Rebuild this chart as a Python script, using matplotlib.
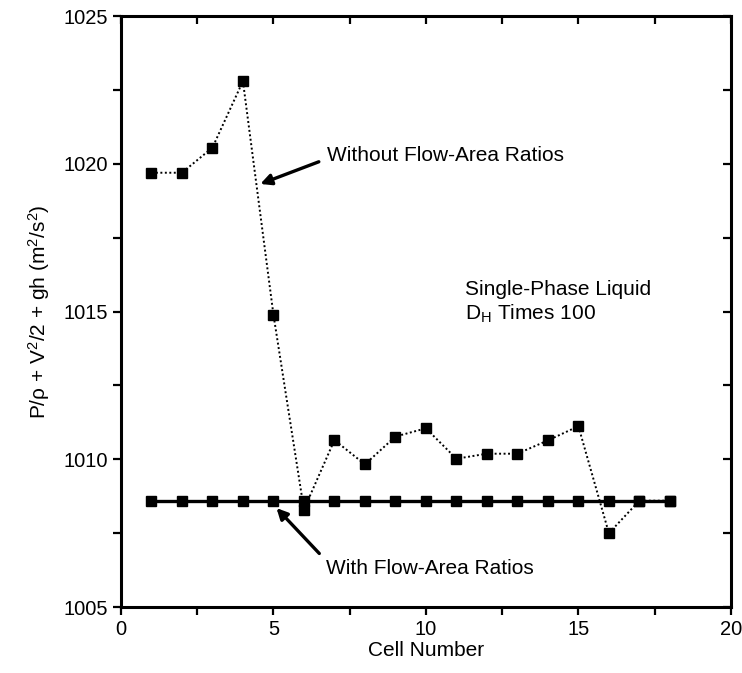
import numpy as np
import matplotlib.pyplot as plt
from matplotlib.ticker import MultipleLocator

plt.rcParams['font.family'] = ['Liberation Sans', 'DejaVu Sans']
plt.rcParams['mathtext.fontset'] = 'custom'
plt.rcParams['mathtext.rm'] = 'Liberation Sans'
plt.rcParams['mathtext.it'] = 'Liberation Sans'

# cell numbers and energy values
cells = np.arange(1, 19)
without_ratios = [1019.7, 1019.7, 1020.55, 1022.8, 1014.9, 1008.3, 1010.65, 1009.83,
                  1010.77, 1011.05, 1010.02, 1010.19, 1010.19, 1010.64, 1011.12,
                  1007.5, 1008.6, 1008.6]
with_ratios = [1008.6] * 18

fig = plt.figure(figsize=(7.42, 6.73), dpi=100)
ax = fig.add_axes([0.163, 0.098, 0.822, 0.878])

ax.plot(cells, with_ratios, color='black', lw=2.4, marker='s', ms=7, zorder=3)
ax.plot(cells, without_ratios, color='black', lw=1.4, ls=(0, (1, 1.3)),
        marker='s', ms=7, zorder=4)

ax.set_xlim(0, 20)
ax.set_ylim(1005, 1025)
ax.xaxis.set_major_locator(MultipleLocator(5))
ax.xaxis.set_minor_locator(MultipleLocator(2.5))
ax.yaxis.set_major_locator(MultipleLocator(5))
ax.yaxis.set_minor_locator(MultipleLocator(2.5))
ax.tick_params(which='both', direction='out', length=6, width=1.6, labelsize=14.5,
               top=False, right=False)
for spine in ax.spines.values():
    spine.set_linewidth(2.2)

# right and top ticks point inward
sec_y = ax.secondary_yaxis('right')
sec_y.yaxis.set_major_locator(MultipleLocator(2.5))
sec_y.tick_params(direction='in', length=6, width=1.6, labelright=False)
sec_x = ax.secondary_xaxis('top')
sec_x.xaxis.set_major_locator(MultipleLocator(2.5))
sec_x.tick_params(direction='in', length=6, width=1.6, labeltop=False)

ax.set_xlabel('Cell Number', fontsize=15, labelpad=1)
ax.set_ylabel(r'P/$\rho$ + V$^2$/2 + gh (m$^2$/s$^2$)', fontsize=15, labelpad=8)

ax.annotate('Without Flow-Area Ratios', xy=(4.57, 1019.32), xytext=(6.75, 1020.27),
            fontsize=15, va='center', ha='left',
            arrowprops=dict(arrowstyle='-|>', color='black', lw=2.4,
                            mutation_scale=16, shrinkA=4, shrinkB=0,
                            relpos=(0, 0.35)))
ax.annotate('With Flow-Area Ratios', xy=(5.1, 1008.35), xytext=(6.72, 1006.32),
            fontsize=15, va='center', ha='left',
            arrowprops=dict(arrowstyle='-|>', color='black', lw=2.4,
                            mutation_scale=16, shrinkA=4, shrinkB=0,
                            relpos=(0, 0.9)))
ax.text(11.29, 1015.74, 'Single-Phase Liquid', fontsize=15, va='center')
ax.text(11.29, 1014.93, r'D$_\mathregular{H}$ Times 100', fontsize=15, va='center')

fig.savefig('out.png', dpi=100)
